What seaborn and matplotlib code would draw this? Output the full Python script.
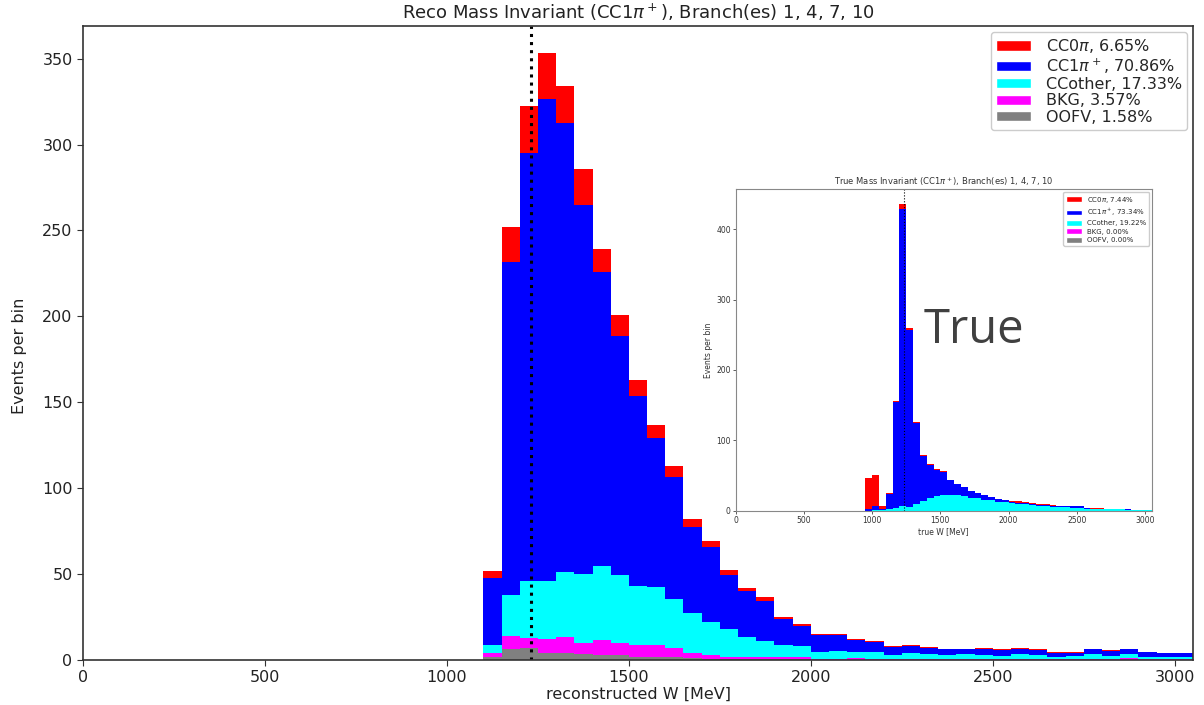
import numpy as np
import pandas as pd
import matplotlib
matplotlib.use("Agg")
import matplotlib.pyplot as plt
from matplotlib.patches import Patch, Rectangle
import seaborn as sns

# ---------------- data: reconstructed W (main) ----------------
reco_edges = list(range(1100, 3051, 50))
reco_oofv = [2.0, 6.4, 6.8, 4.3, 4.3, 3.5, 3.0, 2.9, 2.0, 2.0, 1.5, 1.0, 0.8, 0.5, 0.5, 0.4, 0.3, 0.3, 0.2, 0.2,
             0.2, 0.2, 0.1, 0.1, 0.1, 0.1, 0.1, 0.1, 0.1, 0.1, 0.1, 0.1, 0.1, 0.1, 0.1, 0.1, 0.1, 0.1, 0.1]
reco_bkg = [2.3, 7.6, 6.2, 7.7, 8.9, 6.5, 8.7, 6.8, 6.8, 6.8, 5.3, 3.3, 2.1, 1.5, 1.5, 1.1, 1.2, 1.2, 0.6, 0.6,
            0.8, 0.6, 0.5, 0.5, 0.4, 0.4, 0.4, 0.7, 0.4, 0.4, 0.4, 0.4, 0.4, 0.4, 0.4, 0.9, 0.4, 0.3, 0.3]
reco_ccother = [4.5, 23.6, 33.0, 33.8, 38.0, 40.0, 43.3, 40.0, 34.0, 33.5, 28.6, 23.3, 19.5, 16.1, 11.6, 9.8, 7.3,
                6.9, 4.1, 4.5, 3.5, 3.7, 2.3, 3.3, 3.0, 2.4, 3.0, 2.1, 2.0, 3.0, 2.4, 1.5, 1.8, 3.0, 2.0, 2.5,
                1.5, 1.2, 1.2]
reco_cc1pi = [39.2, 193.9, 249.0, 280.9, 261.5, 214.8, 171.0, 138.8, 110.6, 86.7, 71.1, 49.9, 43.4, 31.2, 26.4,
              22.8, 14.9, 11.1, 9.7, 9.3, 7.2, 5.8, 4.9, 4.1, 3.3, 3.3, 2.7, 3.3, 3.5, 2.7, 3.1, 1.9, 2.0, 2.7,
              3.0, 2.7, 2.5, 2.3, 2.3]
reco_cc0pi = [3.6, 20.5, 27.4, 26.3, 21.3, 21.2, 13.5, 12.5, 9.6, 8.0, 6.5, 4.5, 3.7, 3.1, 2.0, 2.3, 1.6, 1.7,
              0.6, 0.8, 0.6, 0.6, 0.6, 0.6, 0.6, 0.4, 0.4, 0.6, 0.6, 0.6, 0.6, 0.6, 0.6, 0.2, 0.2, 0.2, 0.2,
              0.4, 0.4]

# ---------------- data: true W (inset) ----------------
true_edges = list(range(950, 3051, 50))
true_ccother = [0.0, 0.5, 0.5, 2.0, 3.3, 6.6, 5.7, 9.5, 14.2, 17.5, 20.8, 21.8, 22.7, 21.8, 20.8, 17.5, 17.5,
                15.2, 15.2, 12.3, 11.8, 10.4, 9.0, 9.0, 7.6, 7.1, 6.2, 5.7, 5.2, 4.7, 4.3, 4.3, 2.8, 2.4, 2.4,
                1.9, 1.9, 2.4, 1.5, 1.2, 1.0, 1.0]
true_cc1pi = [2.0, 6.1, 1.5, 22.0, 150.7, 421.9, 250.3, 115.5, 63.8, 47.8, 37.7, 32.7, 20.3, 16.2, 12.4, 10.5,
              7.2, 6.8, 4.3, 3.9, 3.0, 1.9, 1.9, 1.9, 1.4, 1.4, 1.4, 1.4, 1.4, 1.9, 1.9, 1.9, 1.2, 0.7, 0.7,
              0.7, 0.4, 0.3, 0.3, 0.2, 0.3, 0.3]
true_cc0pi = [44.9, 44.4, 5.1, 1.0, 2.0, 7.1, 3.0, 1.0, 0.6, 0.5, 0.5, 1.8, 0.6, 0.4, 0.4, 0.4, 0.4, 0.3, 0.4,
              0.4, 0.4, 1.9, 2.4, 1.9, 1.9, 1.4, 1.4, 0.9, 0.5, 0.5, 0.4, 0.4, 0.3, 0.2, 0.2, 0.2, 0.1, 0.1,
              0.1, 0.0, 0.1, 0.1]
true_bkg = [0.0] * len(true_cc0pi)
true_oofv = [0.0] * len(true_cc0pi)

categories = ["CC0pi", "CC1pi", "CCother", "BKG", "OOFV"]
reco_labels = ["CC0$\\pi$, 6.65%", "CC1$\\pi^+$, 70.86%", "CCother, 17.33%", "BKG, 3.57%", "OOFV, 1.58%"]
true_labels = ["CC0$\\pi$, 7.44%", "CC1$\\pi^+$, 73.34%", "CCother, 19.22%", "BKG, 0.00%", "OOFV, 0.00%"]
colors = {"CC0pi": "#ff0000", "CC1pi": "#0000ff", "CCother": "#00ffff", "BKG": "#ff00ff", "OOFV": "#808080"}
delta_mass = 1232
x_ticks = [0, 500, 1000, 1500, 2000, 2500, 3000]
reco_yticks = [0, 50, 100, 150, 200, 250, 300, 350]
true_yticks = [0, 100, 200, 300, 400]


def long_frame(edges, series):
    centers = [(a + b) / 2 for a, b in zip(edges[:-1], edges[1:])]
    rows = []
    for cat, vals in zip(categories, series):
        for c, v in zip(centers, vals):
            rows.append({"W": c, "n": v, "cat": cat})
    return pd.DataFrame(rows)


reco_df = long_frame(reco_edges, [reco_cc0pi, reco_cc1pi, reco_ccother, reco_bkg, reco_oofv])
true_df = long_frame(true_edges, [true_cc0pi, true_cc1pi, true_ccother, true_bkg, true_oofv])

sns.set_style("ticks")
plt.rcParams["font.family"] = ["DejaVu Sans"]

fig = plt.figure(figsize=(12.04, 7.05), dpi=100)
ax = fig.add_axes([83 / 1204, 1 - 660 / 705, (1193 - 83) / 1204, (660 - 26) / 705])

sns.histplot(data=reco_df, x="W", weights="n", hue="cat", hue_order=categories, palette=colors,
             bins=reco_edges, multiple="stack", element="bars", linewidth=0, alpha=1,
             legend=False, ax=ax)
ax.axvline(delta_mass, color="black", linestyle=":", linewidth=2.2)
ax.set_xlim(0, 3050)
ax.set_ylim(0, 369)
ax.set_xticks(x_ticks)
ax.set_yticks(reco_yticks)
ax.tick_params(labelsize=11.5, length=4, color="#333333", labelcolor="#222222")
for s in ax.spines.values():
    s.set_color("#333333")
    s.set_linewidth(1.2)
ax.set_xlabel("reconstructed W [MeV]", fontsize=11.5, color="#222222", labelpad=1)
ax.set_ylabel("Events per bin", fontsize=11.5, color="#222222")
ax.yaxis.set_label_coords(-0.05, 0.48)
ax.set_title("Reco Mass Invariant (CC1$\\pi^+$), Branch(es) 1, 4, 7, 10", fontsize=13, color="#222222", pad=5)
handles = [Patch(facecolor=colors[c], label=l) for c, l in zip(categories, reco_labels)]
leg = ax.legend(handles=handles, loc="upper right", fontsize=11.5, labelspacing=0.08, handleheight=0.6,
                handlelength=2.2, borderaxespad=0.35, frameon=True, framealpha=1, edgecolor="#cccccc",
                fancybox=True, borderpad=0.35, handletextpad=0.9)

# white backdrop for the inset picture
fig.patches.append(Rectangle((703 / 1204, 1 - 537 / 705), (1190 - 703) / 1204, (537 - 172) / 705,
                             transform=fig.transFigure, facecolor="white", edgecolor="none", zorder=5))

ins = fig.add_axes([735.7 / 1204, 1 - 510.7 / 705, (1151.9 - 735.7) / 1204, (510.7 - 189) / 705], zorder=6)
sns.histplot(data=true_df, x="W", weights="n", hue="cat", hue_order=categories, palette=colors,
             bins=true_edges, multiple="stack", element="bars", linewidth=0, alpha=1,
             legend=False, ax=ins)
ins.axvline(delta_mass, color="black", linestyle=":", linewidth=0.8)
ins.set_xlim(0, 3050)
ins.set_ylim(0, 457)
ins.set_xticks(x_ticks)
ins.set_yticks(true_yticks)
ins.tick_params(labelsize=5.5, length=2, width=0.6, color="#444444", labelcolor="#333333", pad=1.5)
for s in ins.spines.values():
    s.set_color("#888888")
    s.set_linewidth(0.8)
ins.set_xlabel("true W [MeV]", fontsize=5.5, color="#333333", labelpad=1.5)
ins.set_ylabel("Events per bin", fontsize=5.5, color="#333333", labelpad=2)
ins.set_title("True Mass Invariant (CC1$\\pi^+$), Branch(es) 1, 4, 7, 10", fontsize=6, color="#333333", pad=3)
ihandles = [Patch(facecolor=colors[c], label=l) for c, l in zip(categories, true_labels)]
ins.legend(handles=ihandles, loc="upper right", fontsize=5, labelspacing=0.3, handleheight=0.9,
           handlelength=2.2, borderaxespad=0.4, frameon=True, framealpha=1, edgecolor="#cccccc",
           fancybox=True, borderpad=0.4)

fig.text(924 / 1204, 1 - 342.7 / 705, "True", fontsize=34, family=["Open Sans", "DejaVu Sans"],
         color="#404040", va="baseline", ha="left", zorder=10)

fig.savefig("out.png", dpi=100)
